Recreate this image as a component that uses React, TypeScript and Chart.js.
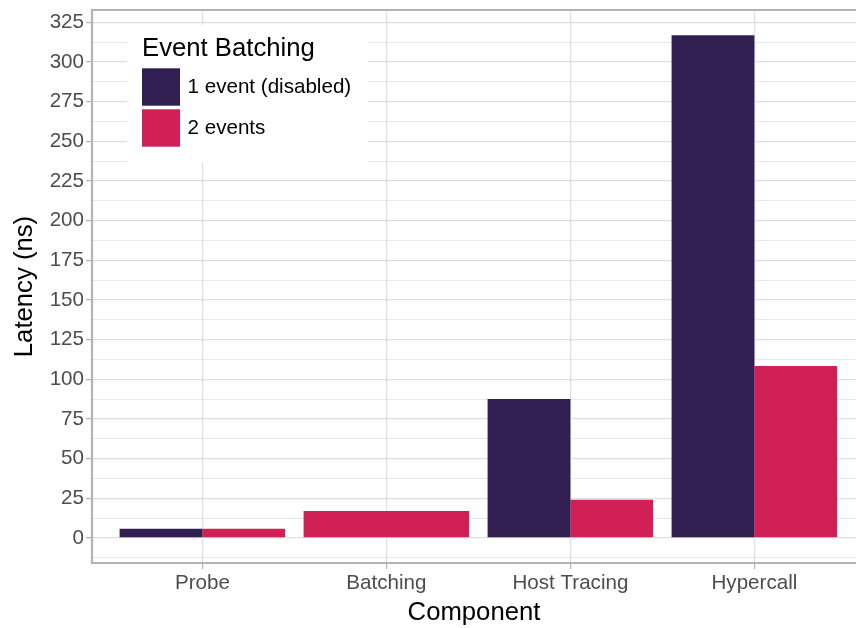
import React, { useEffect, useRef } from 'react';
import { Chart, registerables } from 'chart.js';

Chart.register(...registerables);

// ---- data ----
const categories = ['Probe', 'Batching', 'Host Tracing', 'Hypercall'];
const seriesNames = ['1 event (disabled)', '2 events'];
const seriesColors = ['#311F52', '#D12055'];
const oneEvent: (number | null)[] = [5.7, null, 87.5, 317];
const twoEvents: (number | null)[] = [5.7, 17, 24, 108.3];
const yMajorTicks = [0, 25, 50, 75, 100, 125, 150, 175, 200, 225, 250, 275, 300, 325];
const legendTitle = 'Event Batching';
const xTitle = 'Component';
const yTitle = 'Latency (ns)';

const FONT = '"Liberation Sans", Arial, Helvetica, sans-serif';

export default function App() {
  const canvasRef = useRef<HTMLCanvasElement | null>(null);

  useEffect(() => {
    document.body.style.margin = '0';
    const canvas = canvasRef.current;
    if (!canvas) return;

    const series = [oneEvent, twoEvents];
    const groupedData = series.map((vals) =>
      categories
        .map((_, i) => ({ i, v: vals[i] }))
        .filter((d) => oneEvent[d.i] != null && twoEvents[d.i] != null && d.v != null)
        .map((d) => ({ x: d.i + 1, y: d.v as number }))
    );
    const soloData = series.map((vals, s) =>
      categories
        .map((_, i) => ({ i, v: vals[i] }))
        .filter((d) => d.v != null && series[1 - s][d.i] == null)
        .map((d) => ({ x: d.i + 1, y: d.v as number }))
    );

    const allVals = [...oneEvent, ...twoEvents].filter((v) => v != null) as number[];
    const dMax = Math.max(0, ...allVals);
    const dMin = Math.min(0, ...allVals);
    const exp = (dMax - dMin) * 0.05;
    const yMin = dMin - exp;
    const yMax = dMax + exp;

    const step = yMajorTicks[1] - yMajorTicks[0];
    const yAllTicks: number[] = [];
    for (let k = 0; k < yMajorTicks.length; k++) {
      const t = yMajorTicks[k];
      const half = t - step / 2;
      if (half >= yMin) yAllTicks.push(half);
      yAllTicks.push(t);
    }
    const lastHalf = yMajorTicks[yMajorTicks.length - 1] + step / 2;
    if (lastHalf <= yMax) yAllTicks.push(lastHalf);
    const isMajor = (v: number) => yMajorTicks.includes(v);

    const datasets: any[] = [];
    series.forEach((_, s) => {
      datasets.push({
        label: seriesNames[s],
        data: groupedData[s],
        backgroundColor: seriesColors[s],
        borderWidth: 0,
        barPercentage: 1,
        categoryPercentage: 0.9,
      });
    });
    series.forEach((_, s) => {
      if (soloData[s].length) {
        datasets.push({
          label: seriesNames[s] + ' (solo)',
          data: soloData[s],
          backgroundColor: seriesColors[s],
          borderWidth: 0,
          barPercentage: 1,
          categoryPercentage: 0.9,
          grouped: false,
        });
      }
    });

    const panelPlugin = {
      id: 'panelDecor',
      afterDatasetsDraw(chart: any) {
        const { ctx, chartArea } = chart;
        const L = chartArea.left;
        const T = chartArea.top;
        ctx.save();
        ctx.fillStyle = '#FFFFFF';
        ctx.fillRect(L + 35, T + 15, 241, 137);
        ctx.fillStyle = '#000000';
        ctx.textBaseline = 'alphabetic';
        ctx.textAlign = 'left';
        ctx.font = `25.7px ${FONT}`;
        ctx.fillText(legendTitle, L + 50, T + 46);
        const keyX = L + 50;
        const keyW = 38;
        const keyH = 37.4;
        const keyY0 = T + 58.3;
        const keyStep = 41;
        ctx.font = `20.6px ${FONT}`;
        ctx.textBaseline = 'middle';
        seriesNames.forEach((name, s) => {
          const y = keyY0 + s * keyStep;
          ctx.fillStyle = seriesColors[s];
          ctx.fillRect(keyX, y, keyW, keyH);
          ctx.fillStyle = '#000000';
          ctx.fillText(name, keyX + keyW + 7.5, y + keyH / 2 + 0.5);
        });
        ctx.restore();
      },
      afterDraw(chart: any) {
        const { ctx, chartArea } = chart;
        ctx.save();
        ctx.strokeStyle = '#B3B3B3';
        ctx.lineWidth = 2.2;
        ctx.beginPath();
        ctx.moveTo(chartArea.right + 5, chartArea.top);
        ctx.lineTo(chartArea.left, chartArea.top);
        ctx.lineTo(chartArea.left, chartArea.bottom);
        ctx.lineTo(chartArea.right + 5, chartArea.bottom);
        ctx.stroke();
        ctx.restore();
      },
    };

    const chart = new Chart(canvas, {
      type: 'bar',
      data: { datasets },
      options: {
        animation: false,
        responsive: false,
        maintainAspectRatio: false,
        layout: { padding: { left: 0, right: 0, top: 10, bottom: 0 } },
        plugins: {
          legend: { display: false },
          tooltip: { enabled: false },
        },
        scales: {
          x: {
            type: 'linear',
            offset: false,
            min: 0.4,
            max: 0.4 + 764 / 184,
            afterBuildTicks: (scale: any) => {
              scale.ticks = categories.map((_, i) => ({ value: i + 1 }));
            },
            afterFit: (scale: any) => {
              scale.height = 65;
              scale.paddingLeft = 0;
              scale.paddingRight = 0;
            },
            ticks: {
              autoSkip: false,
              maxRotation: 0,
              minRotation: 0,
              padding: 2,
              color: '#4D4D4D',
              font: { family: FONT, size: 20.6, lineHeight: 1.2 },
              callback: (v: any) => categories[Math.round(v) - 1] ?? '',
            },
            grid: {
              offset: false,
              color: '#DEDEDE',
              lineWidth: 1.2,
              tickLength: 6,
              tickColor: '#B3B3B3',
              tickWidth: 1.2,
            },
            border: { display: false },
            title: {
              display: true,
              text: xTitle,
              color: '#000000',
              font: { family: FONT, size: 25.7, lineHeight: 1.2 },
              padding: { top: 0, bottom: 0 },
            },
          },
          y: {
            type: 'linear',
            min: yMin,
            max: yMax,
            afterBuildTicks: (scale: any) => {
              scale.ticks = yAllTicks.map((v) => ({ value: v }));
            },
            afterFit: (scale: any) => {
              scale.width = 92;
              scale.paddingTop = 0;
              scale.paddingBottom = 0;
            },
            ticks: {
              autoSkip: false,
              padding: 2,
              color: '#4D4D4D',
              font: { family: FONT, size: 20.6, lineHeight: 1.2 },
              callback: (v: any) => (isMajor(Number(v)) ? String(v) : ''),
            },
            grid: {
              color: '#DEDEDE',
              lineWidth: (ctx: any) => (ctx.tick && isMajor(ctx.tick.value) ? 1.2 : 0.7),
              tickLength: 6,
              tickColor: (ctx: any) => (ctx.tick && isMajor(ctx.tick.value) ? '#B3B3B3' : 'rgba(0,0,0,0)'),
              tickWidth: 1.2,
            },
            border: { display: false },
            title: {
              display: true,
              text: yTitle,
              color: '#000000',
              font: { family: FONT, size: 25.7, lineHeight: 1.2 },
              padding: { top: 9, bottom: 0 },
            },
          },
        },
      } as any,
      plugins: [panelPlugin],
    });

    return () => {
      chart.destroy();
    };
  }, []);

  return (
    <div style={{ position: 'fixed', left: 0, top: 0, width: 856, height: 628, background: '#FFFFFF' }}>
      <canvas ref={canvasRef} width={856} height={628} style={{ width: 856, height: 628, display: 'block' }} />
    </div>
  );
}
